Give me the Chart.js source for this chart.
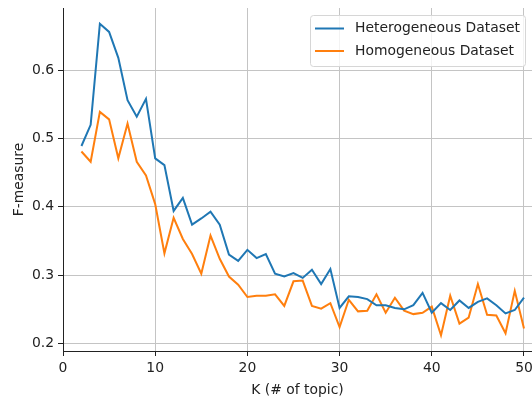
<!DOCTYPE html>
<html>
<head>
<meta charset="utf-8">
<script src="https://cdn.jsdelivr.net/npm/chart.js@4.4.1/dist/chart.umd.min.js"></script>
<style>
  html, body { margin: 0; padding: 0; background: #fff; }
</style>
</head>
<body>
<canvas id="fmeasureChart" width="532" height="399"></canvas>
<script>
    // ===================================
    // DATA
    // ===================================
    const topicCounts = [
        2, 3, 4, 5, 6, 7, 8, 9, 10, 11, 12, 13, 14, 15, 16, 17, 18, 19, 20, 21,
        22, 23, 24, 25, 26, 27, 28, 29, 30, 31, 32, 33, 34, 35, 36, 37, 38, 39, 40, 41,
        42, 43, 44, 45, 46, 47, 48, 49, 50
    ];
    const heterogeneous = [
        0.489, 0.520, 0.668, 0.656, 0.618, 0.556, 0.532, 0.558, 0.471, 0.461,
        0.394, 0.413, 0.374, 0.383, 0.393, 0.374, 0.330, 0.321, 0.337, 0.325,
        0.331, 0.302, 0.298, 0.303, 0.296, 0.308, 0.287, 0.309, 0.252, 0.269,
        0.268, 0.265, 0.256, 0.256, 0.252, 0.250, 0.256, 0.274, 0.245, 0.259,
        0.249, 0.263, 0.252, 0.261, 0.266, 0.256, 0.244, 0.249, 0.267
    ];
    const homogeneous = [
        0.481, 0.466, 0.539, 0.528, 0.471, 0.522, 0.466, 0.446, 0.404, 0.332,
        0.384, 0.353, 0.331, 0.302, 0.358, 0.324, 0.298, 0.286, 0.268, 0.270,
        0.270, 0.272, 0.255, 0.291, 0.292, 0.255, 0.251, 0.259, 0.224, 0.264,
        0.247, 0.248, 0.272, 0.245, 0.267, 0.248, 0.243, 0.245, 0.254, 0.212,
        0.270, 0.229, 0.238, 0.287, 0.242, 0.241, 0.215, 0.277, 0.222
    ];
    const seriesLabels = ['Heterogeneous Dataset', 'Homogeneous Dataset'];
    const xTicks = [0, 10, 20, 30, 40, 50];
    const yTicks = [0.2, 0.3, 0.4, 0.5, 0.6];

    const FONT = 'DejaVu Sans';
    const FONT_SIZE = 13.9;
    const INK = '#222';
    const GRID = '#c4c4c4';

    const toPoints = (ys) => topicCounts.map((k, i) => ({ x: k, y: ys[i] }));

    // --- matplotlib-style legend box, drawn inside the plot ---
    const boxLegend = {
        id: 'boxLegend',
        afterDraw(chart) {
            const ctx = chart.ctx;
            const area = chart.chartArea;
            const w = 215, h = 51;
            const x = area.right - 7 - w, y = area.top + 7;
            ctx.save();
            ctx.beginPath();
            ctx.roundRect(x + 0.5, y + 0.5, w, h, 3);
            ctx.fillStyle = 'rgba(255,255,255,0.8)';
            ctx.fill();
            ctx.strokeStyle = '#d6d6d6';
            ctx.lineWidth = 1;
            ctx.stroke();
            ctx.font = FONT_SIZE + 'px "' + FONT + '"';
            ctx.textBaseline = 'middle';
            chart.data.datasets.forEach((ds, i) => {
                const rowY = y + 13.5 + i * 22.5;
                ctx.strokeStyle = ds.borderColor;
                ctx.lineWidth = 2;
                ctx.beginPath();
                ctx.moveTo(x + 5, rowY);
                ctx.lineTo(x + 34, rowY);
                ctx.stroke();
                ctx.fillStyle = INK;
                ctx.fillText(ds.label, x + 45, rowY);
            });
            ctx.restore();
        }
    };

    const config = {
        type: 'line',
        data: {
            datasets: [
                {
                    label: seriesLabels[0],
                    data: toPoints(heterogeneous),
                    borderColor: '#1f77b4',
                    backgroundColor: '#1f77b4',
                    borderWidth: 2,
                    pointRadius: 0,
                    tension: 0
                },
                {
                    label: seriesLabels[1],
                    data: toPoints(homogeneous),
                    borderColor: '#ff7f0e',
                    backgroundColor: '#ff7f0e',
                    borderWidth: 2,
                    pointRadius: 0,
                    tension: 0
                }
            ]
        },
        options: {
            responsive: false,
            devicePixelRatio: 1,
            animation: false,
            layout: { padding: { left: 0, right: 0, top: 8, bottom: 0 } },
            plugins: {
                legend: { display: false },
                tooltip: { enabled: false }
            },
            scales: {
                x: {
                    type: 'linear',
                    min: 0,
                    max: 50.87,
                    afterBuildTicks: (s) => { s.ticks = xTicks.map(v => ({ value: v })); },
                    afterFit: (s) => { s.height = 48; s.paddingLeft = 0; s.paddingRight = 0; },
                    ticks: {
                        color: INK,
                        font: { family: FONT, size: FONT_SIZE },
                        padding: 4,
                        maxRotation: 0,
                        callback: (v) => String(v)
                    },
                    grid: { color: GRID, lineWidth: 1, tickColor: INK, tickLength: 5 },
                    border: { display: true, color: INK, width: 1 },
                    title: {
                        display: true,
                        text: 'K (# of topic)',
                        color: INK,
                        font: { family: FONT, size: FONT_SIZE },
                        padding: { top: 0, bottom: 0 }
                    }
                },
                y: {
                    min: 0.189,
                    max: 0.691,
                    afterBuildTicks: (s) => { s.ticks = yTicks.map(v => ({ value: v })); },
                    afterFit: (s) => { s.width = 63; s.paddingTop = 0; s.paddingBottom = 0; },
                    ticks: {
                        color: INK,
                        font: { family: FONT, size: FONT_SIZE },
                        padding: 4,
                        callback: (v) => v.toFixed(1)
                    },
                    grid: { color: GRID, lineWidth: 1, tickColor: INK, tickLength: 5 },
                    border: { display: true, color: INK, width: 1 },
                    title: {
                        display: true,
                        text: 'F-measure',
                        color: INK,
                        font: { family: FONT, size: FONT_SIZE },
                        padding: { top: 11, bottom: 0 }
                    }
                }
            }
        },
        plugins: [boxLegend]
    };

    // --- Render Chart ---
    const ctxF = document.getElementById('fmeasureChart').getContext('2d');
    new Chart(ctxF, config);
</script>
</body>
</html>
